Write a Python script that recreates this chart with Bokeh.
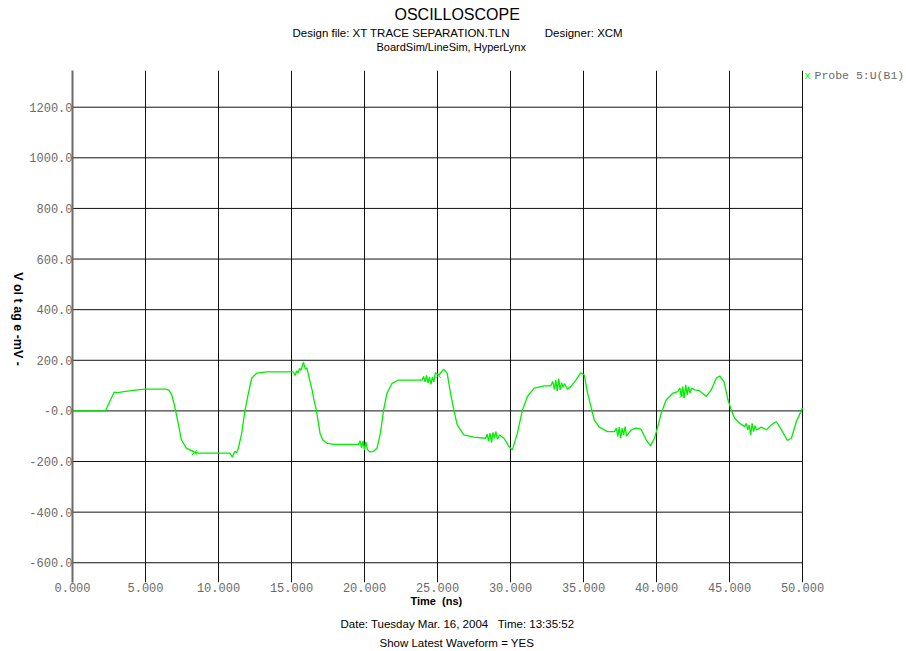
import math
from bokeh.plotting import figure
from bokeh.models import Range1d, FixedTicker, Title, Label
from bokeh.layouts import row
from bokeh.embed import file_html
from bokeh.resources import INLINE

# ---- data (time in ns, voltage in mV) ----
time_ns = [
    0.0, 2.25, 2.85, 3.1, 3.75, 4.45, 5.0, 6.4, 6.6, 6.8, 6.95, 7.05, 7.24, 7.46, 7.8, 8.26, 8.6,
    10.78, 10.9, 10.95, 11.05, 11.13, 11.25, 11.36, 11.59, 11.8, 12.05, 12.27, 12.62, 13.3,
    15.13, 15.25, 15.35, 15.45, 15.55, 15.65, 15.82, 15.95, 16.05, 16.17, 16.4, 16.55, 16.7,
    16.85, 16.96, 17.15, 17.4, 17.88, 19.6, 19.7, 19.8, 19.9, 20.0, 20.1, 20.2, 20.35, 20.6,
    20.86, 21.09, 21.31, 21.54, 21.89, 22.34, 23.95, 24.05, 24.15, 24.25, 24.35, 24.45, 24.55,
    24.65, 24.75, 24.85, 25.1, 25.43, 25.66, 25.89, 26.12, 26.35, 26.8, 27.49, 28.3, 28.4, 28.5,
    28.6, 28.7, 28.8, 28.9, 29.0, 29.1, 29.25, 29.55, 29.9, 30.13, 30.47, 30.82, 31.16, 31.62,
    32.3, 32.76, 32.9, 33.0, 33.1, 33.2, 33.3, 33.4, 33.5, 33.6, 33.7, 33.9, 34.13, 34.48, 34.82,
    35.05, 35.28, 35.51, 35.74, 36.08, 36.65, 37.11, 37.25, 37.35, 37.45, 37.55, 37.65, 37.75,
    37.85, 37.95, 38.26, 38.6, 38.94, 39.29, 39.59, 39.86, 40.09, 40.32, 40.66, 41.12, 41.46,
    41.6, 41.7, 41.8, 41.9, 42.0, 42.1, 42.2, 42.3, 42.4, 42.6, 42.94, 43.41, 43.75, 44.09,
    44.32, 44.62, 44.9, 45.12, 45.35, 45.7, 46.04, 46.15, 46.25, 46.35, 46.45, 46.55, 46.65,
    46.75, 46.85, 47.18, 47.53, 47.87, 48.21, 48.56, 48.97, 49.24, 49.58, 50.0,
]
voltage_mv = [
    0, 0, 74, 72, 78, 83, 86, 86, 82, 63, 30, 4, -49, -114, -147, -161, -167,
    -167, -178, -183, -168, -160, -165, -147, -88, -3, 70, 129, 149, 154,
    154, 140, 158, 150, 168, 160, 192, 165, 170, 140, 85, 40, 4,
    -50, -90, -115, -127, -132, -132, -118, -147, -118, -155, -122, -152, -162, -160,
    -147, -88, 4, 70, 109, 122, 122, 136, 115, 140, 110, 134, 105,
    134, 115, 150, 142, 165, 149, 70, 4, -55, -95, -104, -108, -92, -120,
    -88, -125, -85, -108, -82, -112, -95, -108, -141, -154, -88, 4, 57, 90,
    99, 99, 116, 85, 122, 78, 128, 83, 112, 92, 108, 86, 96, 122, 151,
    142, 70, 17, -36, -64, -82, -82, -68, -101, -64, -108, -68, -95,
    -62, -100, -75, -68, -72, -114, -138, -108, -62, -9, 43, 70, 76,
    90, 57, 96, 50, 103, 63, 96, 70, 90, 83, 80, 57, 83, 129,
    138, 116, 43, 4, -29, -49, -62, -49, -75, -55, -95, -49, -82,
    -59, -75, -64, -75, -55, -42, -75, -117, -108, -42, 11,
]
marker_t = [8.35, 25.05, 41.75]
marker_v = [-165, 140, 61]

x_ticks = [0, 5, 10, 15, 20, 25, 30, 35, 40, 45, 50]
x_tick_labels = ["0.000", "5.000", "10.000", "15.000", "20.000", "25.000",
                 "30.000", "35.000", "40.000", "45.000", "50.000"]
y_ticks = [-600, -400, -200, 0, 200, 400, 600, 800, 1000, 1200]
y_tick_labels = ["-600.0", "-400.0", "-200.0", "-0.0", "200.0", "400.0",
                 "600.0", "800.0", "1000.0", "1200.0"]

series_name = "Probe 5:U(B1)"
title_text = "OSCILLOSCOPE"
design_text = "Design file: XT TRACE SEPARATION.TLN" + "\u00a0" * 11 + "Designer: XCM"
tool_text = "BoardSim/LineSim, HyperLynx"
x_label = "Time\u00a0\u00a0(ns)"
y_label = "V ol t ag e -mV -"
date_text = "Date: Tuesday Mar. 16, 2004\u00a0\u00a0\u00a0Time: 13:35:52"
show_text = "Show Latest Waveform = YES"

GREEN = "#00ee00"
GRAY = "#6a6a6a"
MONO = "Liberation Mono"
SANS = "Liberation Sans"

# ---------- narrow strip on the left holding the rotated y-axis title ----------
LW = 26
H = 651
lab = figure(width=LW, height=H, x_range=Range1d(0, LW), y_range=Range1d(0, H),
             output_backend="svg", toolbar_location=None, min_border=0,
             x_axis_location=None, y_axis_location=None)
lab.outline_line_color = None
lab.grid.visible = False
lab.title.text = ""
lab.add_layout(Label(x=17, y=H - 316, text=y_label, angle=-math.pi / 2,
                     text_align="center", text_baseline="middle",
                     text_font=SANS, text_font_size="12.5px", text_font_style="bold",
                     text_color="black"))

# ---------- main plot: plot area spans page x 72..906, y 70..582 ----------
PX_PER_NS = 730 / 50.0
X_END = 50 + (906 - 802) / PX_PER_NS
Y0, Y1 = -678, 1345

p = figure(width=906 - LW, height=H, x_range=Range1d(0, X_END), y_range=Range1d(Y0, Y1),
           output_backend="svg", toolbar_location=None,
           min_border_left=72 - LW, min_border_right=0, min_border_top=70, min_border_bottom=69)
p.outline_line_color = None
p.title.text = ""

p.xaxis.ticker = FixedTicker(ticks=x_ticks)
p.xaxis.major_label_overrides = dict(zip(x_ticks, x_tick_labels))
p.yaxis.ticker = FixedTicker(ticks=y_ticks)
p.yaxis.major_label_overrides = dict(zip(y_ticks, y_tick_labels))
for ax in (p.xaxis, p.yaxis):
    ax.major_tick_out = 0
    ax.major_tick_in = 0
    ax.minor_tick_out = 0
    ax.minor_tick_in = 0
    ax.major_label_text_font = MONO
    ax.major_label_text_font_size = "12px"
    ax.major_label_text_color = GRAY
    ax.major_label_standoff = 0
p.xaxis.axis_line_color = None
p.yaxis.axis_line_color = GRAY
p.yaxis.axis_line_width = 2

# grid: vertical lines from the x grid, horizontal lines only across 0..50 ns
p.xgrid.ticker = FixedTicker(ticks=x_ticks)
p.xgrid.grid_line_color = "#111111"
p.ygrid.grid_line_color = None
p.segment(x0=[x_ticks[0]] * len(y_ticks), x1=[x_ticks[-1]] * len(y_ticks),
          y0=y_ticks, y1=y_ticks, line_color="#111111", line_width=1)

# waveform
p.line(time_ns, voltage_mv, line_color=GREEN, line_width=1.3)
p.scatter(marker_t, marker_v, marker="x", size=7, line_color=GREEN, line_width=1)

# legend entry (right of the 50 ns line)
def to_data(px, py):
    return (px - 72) / PX_PER_NS, Y1 - (py - 70) / 512.0 * (Y1 - Y0)

lx, ly = to_data(807, 75)
p.add_layout(Label(x=lx, y=ly, text="x", text_font=MONO, text_font_size="11px",
                   text_color=GREEN, text_align="center", text_baseline="middle"))
lx, ly = to_data(814, 75)
p.add_layout(Label(x=lx, y=ly, text=series_name, text_font=MONO, text_font_size="11.5px",
                   text_color=GRAY, text_align="left", text_baseline="middle"))

# titles (first added is nearest to the plot)
def title(txt, size, offset, standoff, style="normal", valign="bottom"):
    return Title(text=txt, align="left", offset=offset, standoff=standoff,
                 vertical_align=valign, text_font=SANS, text_font_size=size,
                 text_font_style=style, text_color="black")

p.add_layout(title("\u00a0", "1px", 0, 15), "above")          # spacer
p.add_layout(title(tool_text, "11px", 304, 0), "above")
p.add_layout(title(design_text, "11.5px", 220, 0), "above")
p.add_layout(title(title_text, "16px", 322, 3), "above")

p.add_layout(title(x_label, "11px", 338, 0, style="bold", valign="top"), "below")
p.add_layout(title(date_text, "11.5px", 268, 14), "below")
p.add_layout(title(show_text, "11.5px", 307, 0, valign="top"), "below")

layout = row(lab, p, spacing=0)
open("out.html", "w").write(file_html(layout, INLINE))
